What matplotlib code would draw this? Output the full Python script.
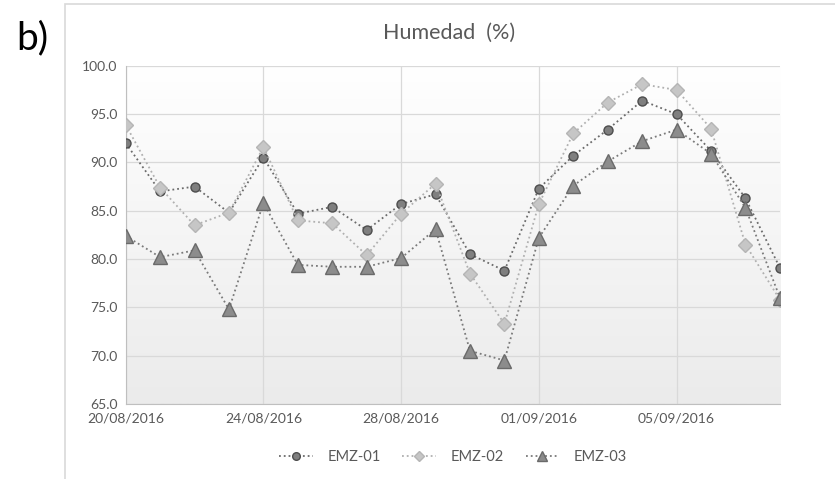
import numpy as np
import pandas as pd
import matplotlib
matplotlib.use("Agg")
import matplotlib.pyplot as plt
import matplotlib.dates as mdates
from matplotlib.patches import Rectangle
from matplotlib.colors import LinearSegmentedColormap

plt.rcParams['font.family'] = ['Lato', 'DejaVu Sans']

# Datos diarios de humedad relativa (%)
fechas = pd.date_range('2016-08-20', '2016-09-08', freq='D')
emz01 = [92.0, 87.0, 87.5, 84.8, 90.5, 84.7, 85.4, 83.0, 85.7, 86.7,
         80.5, 78.8, 87.3, 90.7, 93.4, 96.4, 95.0, 91.2, 86.3, 79.1]
emz02 = [93.9, 87.4, 83.5, 84.8, 91.6, 84.0, 83.7, 80.4, 84.7, 87.8,
         78.5, 73.3, 85.7, 93.0, 96.2, 98.1, 97.5, 93.5, 81.5, 75.8]
emz03 = [82.4, 80.2, 80.9, 74.8, 85.8, 79.4, 79.2, 79.2, 80.1, 83.1,
         70.5, 69.5, 82.2, 87.6, 90.1, 92.2, 93.4, 90.9, 85.3, 76.0]
nombres = ['EMZ-01', 'EMZ-02', 'EMZ-03']

fig = plt.figure(figsize=(8.35, 4.79), dpi=100)
ax = fig.add_axes([0.1505, 0.1566, 0.7835, 0.706])

# marco del grafico
fig.patches.append(Rectangle((65 / 835, -0.01), 1.0, 1 - 4 / 479 + 0.01,
                             transform=fig.transFigure, fill=False,
                             edgecolor='#d9d9d9', lw=1.2))
fig.text(16 / 835, 1 - 38 / 479, 'b)', fontsize=28, va='center', ha='left',
         color='black')
fig.text(449 / 835, 1 - 33 / 479, 'Humedad  (%)', fontsize=15.5,
         color='#595959', ha='center', va='center')

# fondo degradado: blanco arriba, gris claro abajo
cmap = LinearSegmentedColormap.from_list('grad', ['#ffffff', '#ebebeb'])
grad = np.linspace(1, 0, 256).reshape(-1, 1)  # fila 0 = abajo
x0, x1 = mdates.date2num(fechas[0]), mdates.date2num(fechas[-1])
ax.imshow(grad, extent=[x0, x1, 65, 100], aspect='auto', cmap=cmap,
          vmin=0, vmax=1, zorder=0, origin='lower')

estilos = [
    dict(marker='o', ms=6.5, mfc='#7f7f7f', mec='#4d4d4d', color='#6b6b6b'),
    dict(marker='D', ms=7.5, mfc='#c6c6c6', mec='#b5b5b5', color='#b0b0b0'),
    dict(marker='^', ms=9.5, mfc='#8c8c8c', mec='#6a6a6a', color='#7a7a7a'),
]
for serie, nombre, est in zip([emz01, emz02, emz03], nombres, estilos):
    ax.plot(fechas, serie, ls=':', lw=1.3, mew=1.0, label=nombre, zorder=3,
            **est)

ax.set_xlim(x0, x1)
ax.set_ylim(65, 100)
ax.set_yticks(np.arange(65, 100.1, 5))
ax.yaxis.set_major_formatter(matplotlib.ticker.FormatStrFormatter('%.1f'))
ax.set_xticks(fechas[::4])
ax.xaxis.set_major_formatter(mdates.DateFormatter('%d/%m/%Y'))
ax.grid(True, color='#d9d9d9', lw=0.9, zorder=1)
ax.set_axisbelow(True)
for s in ['top', 'right']:
    ax.spines[s].set_visible(False)
for s in ['left', 'bottom']:
    ax.spines[s].set_color('#bfbfbf')
ax.tick_params(length=0, labelsize=10, colors='#595959', pad=6)

leg = fig.legend(loc='center', bbox_to_anchor=(453 / 835, 1 - 457 / 479),
                 ncol=3, frameon=False, fontsize=10.5, labelcolor='#595959',
                 handlelength=2.3, handletextpad=1.0, columnspacing=1.5)
for h, ms in zip(leg.legend_handles, [5.5, 5.0, 6.5]):
    h.set_markersize(ms)

fig.savefig('out.png', dpi=100)
